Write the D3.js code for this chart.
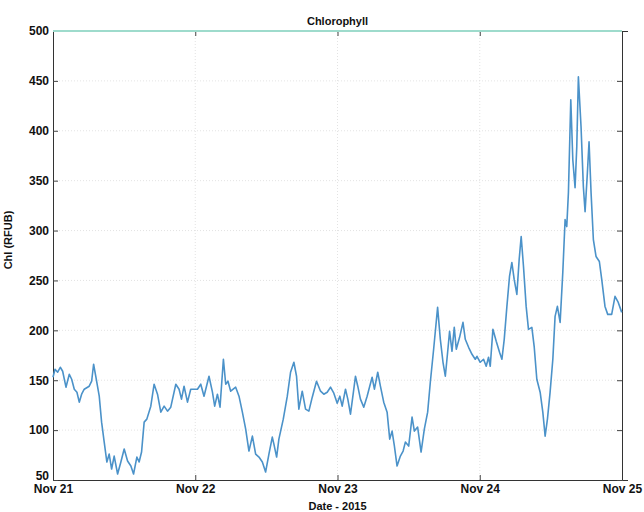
<!DOCTYPE html>
<html>
<head>
<meta charset="utf-8">
<script src="https://cdn.jsdelivr.net/npm/d3@7"></script>
<style>
  html, body { margin: 0; padding: 0; background: #fff; }
  svg { display: block; }
  text { font-family: "Liberation Sans", Arial, sans-serif; fill: #111; }
</style>
</head>
<body>
<svg id="chart" width="644" height="512"></svg>
<script>
// Chlorophyll fluorescence, 21-25 Nov 2015 (hours after Nov 21 00:00)
const hours = [
  0.0, 0.34, 0.79, 1.23, 1.63, 2.19, 2.75, 3.15, 3.59, 4.04, 4.43, 4.83, 5.27, 6.11, 6.52, 6.85,
  7.24, 7.80, 8.20, 8.64, 9.09, 9.48, 9.89, 10.32, 10.90, 11.45, 12.01, 12.58, 13.14, 13.59, 14.15,
  14.53, 14.94, 15.38, 15.83, 16.50, 17.06, 17.63, 18.19, 18.75, 19.32, 19.87, 20.72, 21.27, 21.68,
  22.11, 22.69, 23.24, 23.80, 24.37, 24.93, 25.48, 26.32, 26.90, 27.28, 27.74, 28.18, 28.75, 29.14,
  29.52, 29.98, 30.82, 31.38, 31.95, 32.51, 33.06, 33.64, 34.19, 34.75, 35.32, 35.87, 36.43, 37.00,
  37.27, 37.73, 38.11, 38.85, 39.53, 40.08, 40.64, 41.09, 41.48, 42.05, 42.61, 43.17, 43.74, 44.46,
  45.14, 45.69, 46.26, 46.82, 47.38, 47.95, 48.39, 48.79, 49.35, 49.74, 50.19, 50.64, 51.03, 51.42,
  51.87, 52.43, 53.00, 53.44, 53.84, 54.23, 54.79, 55.24, 55.80, 56.37, 56.81, 57.21, 57.60, 58.05,
  58.61, 59.07, 59.45, 60.01, 60.58, 60.97, 61.52, 62.10, 62.65, 63.21, 63.66, 64.22, 64.89, 65.35,
  65.80, 66.19, 66.58, 66.91, 67.32, 67.70, 68.04, 68.60, 69.17, 69.56, 70.12, 70.69, 71.24, 71.53,
  72.08, 72.64, 73.09, 73.48, 73.77, 74.22, 74.78, 75.34, 75.74, 76.13, 76.58, 77.02, 77.42, 77.81,
  78.26, 78.65, 78.99, 79.38, 79.83, 80.22, 80.79, 81.18, 81.63, 82.19, 82.64, 83.03, 83.42, 83.87,
  84.33, 84.71, 85.10, 85.56, 86.01, 86.40, 86.68, 86.96, 87.36, 87.70, 88.08, 88.37, 88.64, 89.09,
  89.48, 89.77, 90.16, 90.44, 90.78, 91.17, 91.62, 92.18, 92.58, 93.13, 93.59, 94.26, 94.82, 95.37,
  95.95
];
const chl = [
  153, 161, 158, 163, 159, 143, 156, 151, 141, 138, 128, 136, 141, 144, 149, 166,
  153, 134, 108, 88, 68, 76, 61, 74, 56, 68, 81, 69, 64, 56, 73,
  68, 78, 108, 111, 124, 146, 136, 118, 124, 119, 123, 146, 141, 131,
  144, 128, 141, 141, 141, 146, 134, 154, 138, 124, 136, 123, 171, 146,
  149, 139, 143, 134, 118, 101, 79, 94, 76, 73, 68, 58, 76, 93,
  86, 73, 91, 111, 134, 158, 168, 154, 121, 139, 121, 119, 133, 149,
  139, 136, 138, 143, 137, 127, 134, 124, 141, 131, 116, 136, 154, 144,
  131, 123, 134, 144, 153, 141, 158, 144, 128, 118, 91, 99, 84, 64,
  74, 79, 88, 84, 113, 99, 103, 78, 101, 118, 148, 181, 223, 191,
  168, 154, 178, 199, 179, 203, 181, 193, 208, 191, 183, 176, 171, 174,
  168, 171, 164, 173, 164, 201, 189, 178, 171, 191, 224, 254, 268, 251,
  236, 271, 294, 264, 224, 201, 203, 184, 151, 138, 118, 94, 111, 138,
  171, 214, 224, 208, 258, 311, 304, 338, 431, 371, 343, 384, 454, 404,
  344, 319, 358, 389, 338, 291, 274, 269, 251, 224, 216, 216, 234, 228,
  218
];
// Upper-limit reference series shown along the top of the plot
const limitHours = [0, 96];
const limitValues = [500, 500];

const yTicks = [50, 100, 150, 200, 250, 300, 350, 400, 450, 500];
const dayTicks = ["2015-11-21", "2015-11-22", "2015-11-23", "2015-11-24", "2015-11-25"];

const start = new Date(Date.UTC(2015, 10, 21));
const toDate = h => new Date(start.getTime() + h * 3600e3);

const margin = { left: 53, right: 22, top: 31, bottom: 32 };
const W = 644, H = 512;
const svg = d3.select("#chart");

const x = d3.scaleUtc()
  .domain([start, toDate(96)])
  .range([margin.left, W - margin.right]);
const y = d3.scaleLinear()
  .domain([50, 500])
  .range([H - margin.bottom, margin.top]);

const dayDates = dayTicks.map(s => new Date(s + "T00:00:00Z"));
const fmt = d3.utcFormat("%b %d");

// Dotted grid
const grid = svg.append("g").attr("stroke", "#dcdcdc").attr("stroke-width", 0.8)
  .attr("stroke-dasharray", "1,2");
grid.selectAll(".gy").data(yTicks.slice(1, -1)).join("line")
  .attr("x1", x.range()[0]).attr("x2", x.range()[1])
  .attr("y1", d => y(d)).attr("y2", d => y(d));
grid.selectAll(".gx").data(dayDates.slice(1, -1)).join("line")
  .attr("y1", y.range()[0]).attr("y2", y.range()[1])
  .attr("x1", d => x(d)).attr("x2", d => x(d));

const line = d3.line().x(d => x(d.t)).y(d => y(d.v));

// Axes (ticks pointing inward, box on all four sides)
const axisStyle = g => {
  g.select(".domain").attr("stroke", "#333").attr("stroke-width", 1);
  g.selectAll(".tick line").attr("stroke", "#444");
  g.selectAll("text").attr("font-size", 12).attr("font-weight", "bold")
    .attr("font-family", "Liberation Sans, Arial, sans-serif").attr("fill", "#111");
};

svg.append("g")
  .attr("transform", `translate(0,${y.range()[0]})`)
  .call(d3.axisBottom(x).tickValues(dayDates).tickFormat(fmt)
    .tickSizeInner(-5).tickSizeOuter(0).tickPadding(4))
  .call(axisStyle);

svg.append("g")
  .attr("transform", `translate(0,${y.range()[1]})`)
  .call(d3.axisTop(x).tickValues(dayDates).tickFormat("")
    .tickSizeInner(-5).tickSizeOuter(0))
  .call(axisStyle);

svg.append("g")
  .attr("transform", `translate(${x.range()[0]},0)`)
  .call(d3.axisLeft(y).tickValues(yTicks).tickFormat(d3.format("d"))
    .tickSizeInner(-5).tickSizeOuter(0).tickPadding(4))
  .call(axisStyle)
  // the lowest label sits just above the date labels
  .call(g => g.selectAll(".tick text").filter(d => d === yTicks[0]).attr("dy", "-0.05em"));

svg.append("g")
  .attr("transform", `translate(${x.range()[1]},0)`)
  .call(d3.axisRight(y).tickValues(yTicks).tickFormat(""))
  .call(g => g.selectAll(".tick line").attr("x2", -5))
  .call(axisStyle);

// Series
const series = hours.map((h, i) => ({ t: toDate(h), v: chl[i] }));

svg.append("path")
  .datum(limitHours.map((h, i) => ({ t: toDate(h), v: limitValues[i] })))
  .attr("fill", "none").attr("stroke", "#9edbcc").attr("stroke-width", 2)
  .attr("d", line);

svg.append("path")
  .datum(series)
  .attr("fill", "none").attr("stroke", "#4b92c9").attr("stroke-width", 1.6)
  .attr("stroke-linejoin", "round")
  .attr("d", line);

// Titles
svg.append("text")
  .attr("x", (x.range()[0] + x.range()[1]) / 2).attr("y", 25)
  .attr("text-anchor", "middle").attr("font-size", 11).attr("font-weight", "bold")
  .text("Chlorophyll");

svg.append("text")
  .attr("x", (x.range()[0] + x.range()[1]) / 2).attr("y", 510)
  .attr("text-anchor", "middle").attr("font-size", 11).attr("font-weight", "bold")
  .text("Date - 2015");

svg.append("text")
  .attr("transform", `translate(12,240) rotate(-90)`)
  .attr("text-anchor", "middle").attr("font-size", 11).attr("font-weight", "bold")
  .text("Chl (RFUB)");
</script>
</body>
</html>
